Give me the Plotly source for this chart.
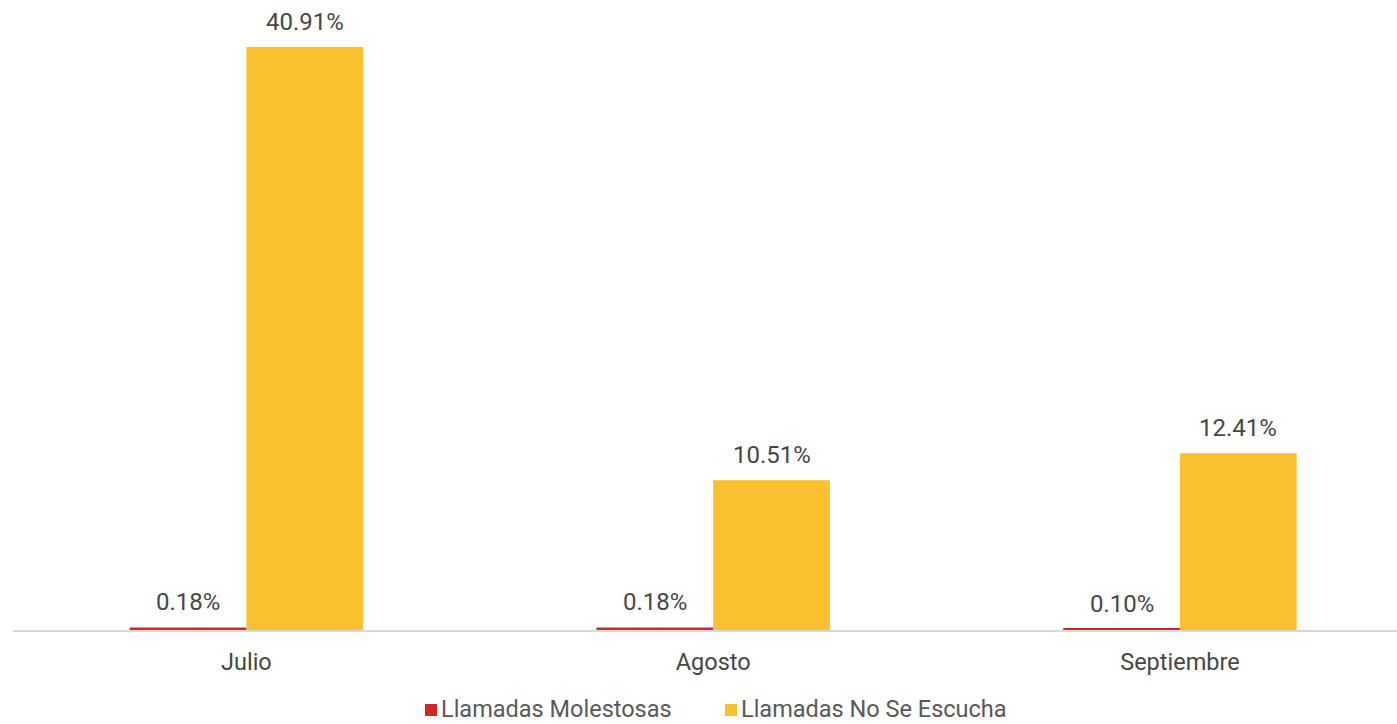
import plotly.graph_objects as go

months = ["Julio", "Agosto", "Septiembre"]
molestosas = [0.18, 0.18, 0.10]
no_se_escucha = [40.91, 10.51, 12.41]

series = [
    ("Llamadas Molestosas", molestosas, "#d0272a", -0.125),
    ("Llamadas No Se Escucha", no_se_escucha, "#f9c02f", 0.125),
]

W, H = 1397, 724
M_L, M_R, M_T, M_B = 13, 0, 0, 94
plot_w = W - M_L - M_R
plot_h = H - M_T - M_B

positions = list(range(len(months)))
font_family = "Roboto, 'Noto Sans', sans-serif"
label_color = "#474747"


def px_x(px):
    return (px - M_L) / plot_w


def px_y(py):
    return (H - M_B - py) / plot_h


fig = go.Figure()
annotations = []
shapes = []
for name, values, color, offset in series:
    fig.add_trace(go.Bar(
        x=positions, y=values, name=name,
        marker=dict(color=color, line=dict(width=0)),
        hoverinfo="skip", showlegend=False,
    ))
    for p, v in zip(positions, values):
        annotations.append(dict(
            x=p + offset, y=v, xref="x", yref="y",
            text=f"{v:.2f}%", showarrow=False,
            yanchor="bottom", yshift=9,
            font=dict(family=font_family, size=24, color=label_color),
        ))

# legend drawn below the axis: square swatch followed by its name
legend_items = [(series[0][0], series[0][2], 425), (series[1][0], series[1][2], 725)]
for name, color, left in legend_items:
    shapes.append(dict(
        type="rect", xref="paper", yref="paper",
        x0=px_x(left), x1=px_x(left + 12), y0=px_y(716), y1=px_y(704),
        fillcolor=color, line=dict(width=0),
    ))
    annotations.append(dict(
        x=px_x(left + 15), y=px_y(709), xref="paper", yref="paper",
        xanchor="left", yanchor="middle", text=name, showarrow=False,
        borderpad=0,
        font=dict(family=font_family, size=23.5, color="#595959"),
    ))

fig.update_layout(
    width=W, height=H,
    margin=dict(l=M_L, r=M_R, t=M_T, b=M_B, autoexpand=False),
    paper_bgcolor="white", plot_bgcolor="white",
    barmode="group", bargap=0.5, bargroupgap=0,
    showlegend=False,
    annotations=annotations,
    shapes=shapes,
    xaxis=dict(
        tickmode="array", tickvals=positions, ticktext=months,
        range=[-0.5, 2.465], showgrid=False, zeroline=False,
        showline=True, linecolor="#d9d9d9", linewidth=2,
        ticks="", ticklabelstandoff=10, automargin=False,
        tickfont=dict(family=font_family, size=23.5, color=label_color),
    ),
    yaxis=dict(
        range=[0, 44.21], visible=False, showgrid=False, zeroline=False,
    ),
)

fig.write_html("out.html")
